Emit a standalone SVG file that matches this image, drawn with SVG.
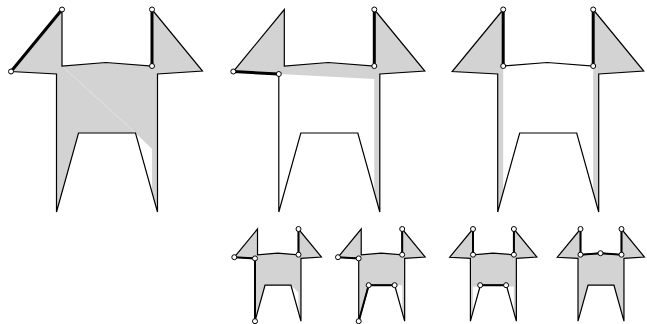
<svg xmlns="http://www.w3.org/2000/svg" width="647" height="324" viewBox="0 0 647 324">
<style>
#outline{vector-effect:non-scaling-stroke}
.shape{fill:none;stroke:#000;stroke-width:1.2;stroke-linejoin:miter;stroke-miterlimit:4}
.gray{fill:#d3d3d3;stroke:none}
.white{fill:#fff;stroke:none}
.thick{fill:none;stroke:#000;stroke-width:3;stroke-linecap:round}
.thin{fill:none;stroke:#000;stroke-width:2;stroke-linecap:round}
.pt{fill:#fff;stroke:#000;stroke-width:1}
</style>
<defs>
<polygon id="outline" points="62,9.5 62,66 106,62.5 152,66 152,9.5 202.5,71 157.5,74 157.5,212 135.5,133 78.5,133 56.5,212 56.5,74 11,71.5"/>
</defs>
<g id="panel1">
<use href="#outline" class="gray"/>
<polygon class="white" points="135.5,133 152,149 152,192"/>
<line x1="62" y1="66" x2="135.5" y2="133" stroke="#e6e6e6" stroke-width="0.8"/>
<use href="#outline" class="shape"/>
<path class="thick" d="M62,9.5L11,71.5M152,9.5V66"/>
<circle class="pt" cx="62" cy="9.5" r="2.5"/><circle class="pt" cx="11" cy="71.5" r="2.5"/><circle class="pt" cx="152" cy="9.5" r="2.5"/><circle class="pt" cx="152" cy="66" r="2.5"/>
</g>
<g id="panel2" transform="translate(222.3,0)">
<polygon class="gray" points="11,71.5 62,9.5 62,66 106,62.5 152,66 152,9.5 202.5,71 157.5,74 157.5,212 152,192 152,79 56.5,74"/>
<use href="#outline" class="shape"/>
<path class="thick" d="M11,71.5L56.5,74M152,9.5V66"/>
<circle class="pt" cx="11" cy="71.5" r="2.5"/><circle class="pt" cx="56.5" cy="74" r="2.5"/><circle class="pt" cx="152" cy="9.5" r="2.5"/><circle class="pt" cx="152" cy="66" r="2.5"/>
</g>
<g id="panel3" transform="translate(441.2,0)">
<polygon class="gray" points="11,71.5 62,9.5 62,193 56.5,212 56.5,74"/>
<polygon class="gray" points="152,9.5 202.5,71 157.5,74 157.5,212 152,192"/>
<use href="#outline" class="shape"/>
<path class="thick" d="M62,9.5V66M152,9.5V66"/>
<circle class="pt" cx="62" cy="9.5" r="2.5"/><circle class="pt" cx="62" cy="66" r="2.5"/><circle class="pt" cx="152" cy="9.5" r="2.5"/><circle class="pt" cx="152" cy="66" r="2.5"/>
</g>
<g id="panel4" transform="translate(229.3,224.7) scale(0.455)">
<use href="#outline" class="gray"/>
<polygon class="white" points="135.5,133 152,149 152,192"/>
<use href="#outline" class="shape"/>
</g>
<g id="panel4-points">
<path class="thin" d="M234.3,257.2L255,258.4V321.2M298.5,229V254.7"/>
<circle class="pt" cx="234.3" cy="257.2" r="2.5"/><circle class="pt" cx="255" cy="258.4" r="2.5"/><circle class="pt" cx="255" cy="321.2" r="2.5"/><circle class="pt" cx="298.5" cy="229" r="2.5"/><circle class="pt" cx="298.5" cy="254.7" r="2.5"/>
</g>
<g id="panel5" transform="translate(333,224.7) scale(0.455)">
<use href="#outline" class="gray"/>
<polygon class="white" points="135.5,133 152,133 152,192"/>
<use href="#outline" class="shape"/>
</g>
<g id="panel5-points">
<path class="thin" d="M338,257.2L358.7,258.4M358.7,321.2L368.7,285.2H394.6M402.2,229V254.7"/>
<circle class="pt" cx="338" cy="257.2" r="2.5"/><circle class="pt" cx="358.7" cy="258.4" r="2.5"/><circle class="pt" cx="358.7" cy="321.2" r="2.5"/><circle class="pt" cx="368.7" cy="285.2" r="2.5"/><circle class="pt" cx="394.6" cy="285.2" r="2.5"/><circle class="pt" cx="402.2" cy="229" r="2.5"/><circle class="pt" cx="402.2" cy="254.7" r="2.5"/>
</g>
<g id="panel6" transform="translate(444.7,224.7) scale(0.455)">
<use href="#outline" class="gray"/>
<polygon class="white" points="62,136 152,136 152,192 135.5,133 78.5,133 62,193"/>
<use href="#outline" class="shape"/>
</g>
<g id="panel6-points">
<path class="thin" d="M473,229V254.7M513.9,229V254.7M480.2,285.2H506.1"/>
<circle class="pt" cx="473" cy="229" r="2.5"/><circle class="pt" cx="473" cy="254.7" r="2.5"/><circle class="pt" cx="513.9" cy="229" r="2.5"/><circle class="pt" cx="513.9" cy="254.7" r="2.5"/><circle class="pt" cx="480.2" cy="285.2" r="2.5"/><circle class="pt" cx="506.1" cy="285.2" r="2.5"/>
</g>
<g id="panel7" transform="translate(552.3,224.7) scale(0.455)">
<use href="#outline" class="gray"/>
<use href="#outline" class="shape"/>
</g>
<g id="panel7-points">
<path class="thin" d="M580.5,229V254.7L600.5,253.2L621.5,254.7V229"/>
<circle class="pt" cx="580.5" cy="229" r="2.5"/><circle class="pt" cx="580.5" cy="254.7" r="2.5"/><circle class="pt" cx="600.5" cy="253.2" r="2.5"/><circle class="pt" cx="621.5" cy="229" r="2.5"/><circle class="pt" cx="621.5" cy="254.7" r="2.5"/>
</g>
<g id="connectors"/>
</svg>
